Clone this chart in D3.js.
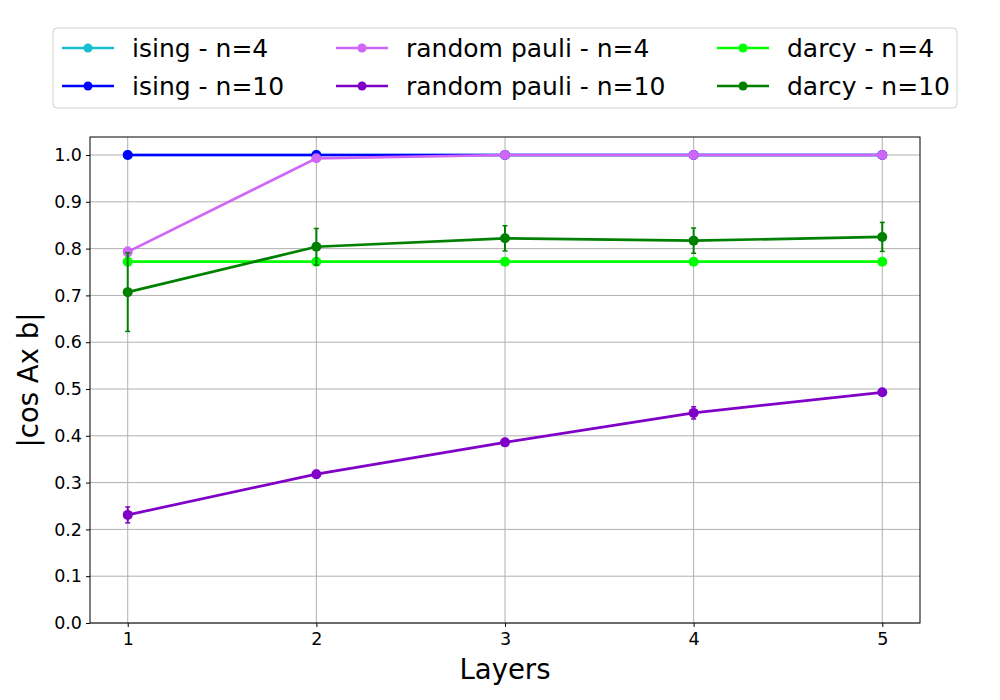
<!DOCTYPE html>
<html>
<head>
<meta charset="utf-8">
<script src="https://cdn.jsdelivr.net/npm/d3@7"></script>
<style>
  body { margin: 0; background: #fff; }
  svg { font-family: "DejaVu Sans", sans-serif; }
</style>
</head>
<body>
<svg width="1000" height="700"></svg>
<script>
// data
var layers = [1, 2, 3, 4, 5];
var xTicks = [1, 2, 3, 4, 5];
var yTicks = [0, 0.1, 0.2, 0.3, 0.4, 0.5, 0.6, 0.7, 0.8, 0.9, 1.0];

var seriesNames = ["ising - n=4", "ising - n=10", "random pauli - n=4",
                   "random pauli - n=10", "darcy - n=4", "darcy - n=10"];
var seriesColors = ["#17becf", "#0000ff", "#d066f5", "#8000c8", "#00ff00", "#008000"];

var isingN4 = [1.0, 1.0, 1.0, 1.0, 1.0];
var isingN10 = [1.0, 1.0, 1.0, 1.0, 1.0];
var pauliN4 = [0.793, 0.993, 1.0, 1.0, 1.0];
var pauliN4Err = [0.01, 0.003, 0, 0, 0];
var pauliN10 = [0.231, 0.318, 0.386, 0.449, 0.493];
var pauliN10Err = [0.017, 0.008, 0.007, 0.013, 0.005];
var darcyN4 = [0.772, 0.772, 0.772, 0.772, 0.772];
var darcyN10 = [0.707, 0.804, 0.822, 0.817, 0.825];
var darcyN10Err = [0.084, 0.039, 0.027, 0.027, 0.031];

var zeros = [0, 0, 0, 0, 0];
var seriesValues = [isingN4, isingN10, pauliN4, pauliN10, darcyN4, darcyN10];
var seriesErrors = [zeros, zeros, pauliN4Err, pauliN10Err, zeros, darcyN10Err];

var svg = d3.select("svg");
var plotL = 90, plotR = 920, plotT = 137, plotB = 623;

var x = d3.scaleLinear().domain([0.8, 5.2]).range([plotL, plotR]);
var y = d3.scaleLinear().domain([0, 1.0385]).range([plotB, plotT]);

// grid
svg.append("g")
    .selectAll("line")
    .data(xTicks)
    .enter().append("line")
    .attr("x1", function (d) { return x(d); })
    .attr("x2", function (d) { return x(d); })
    .attr("y1", plotT).attr("y2", plotB)
    .attr("stroke", "#b0b0b0").attr("stroke-width", 1);
svg.append("g")
    .selectAll("line")
    .data(yTicks)
    .enter().append("line")
    .attr("x1", plotL).attr("x2", plotR)
    .attr("y1", function (d) { return y(d); })
    .attr("y2", function (d) { return y(d); })
    .attr("stroke", "#b0b0b0").attr("stroke-width", 1);

// series
var line = d3.line()
    .x(function (d) { return x(d[0]); })
    .y(function (d) { return y(d[1]); });

seriesValues.forEach(function (vals, i) {
    var col = seriesColors[i];
    var pts = layers.map(function (l, j) { return [l, vals[j], seriesErrors[i][j]]; });
    var g = svg.append("g");

    g.append("path")
        .datum(pts)
        .attr("d", line)
        .attr("fill", "none")
        .attr("stroke", col)
        .attr("stroke-width", 2.7);

    // error bars
    var eb = g.selectAll("g.err")
        .data(pts.filter(function (p) { return p[2] > 0; }))
        .enter().append("g").attr("class", "err");
    eb.append("line")
        .attr("x1", function (p) { return x(p[0]); })
        .attr("x2", function (p) { return x(p[0]); })
        .attr("y1", function (p) { return y(p[1] - p[2]); })
        .attr("y2", function (p) { return y(p[1] + p[2]); })
        .attr("stroke", col).attr("stroke-width", 2);
    [-1, 1].forEach(function (s) {
        eb.append("line")
            .attr("x1", function (p) { return x(p[0]) - 2.5; })
            .attr("x2", function (p) { return x(p[0]) + 2.5; })
            .attr("y1", function (p) { return y(p[1] + s * p[2]); })
            .attr("y2", function (p) { return y(p[1] + s * p[2]); })
            .attr("stroke", col).attr("stroke-width", 1.5);
    });

    g.selectAll("circle")
        .data(pts)
        .enter().append("circle")
        .attr("cx", function (p) { return x(p[0]); })
        .attr("cy", function (p) { return y(p[1]); })
        .attr("r", 5)
        .attr("fill", col);
});

// axes
var xAxis = svg.append("g")
    .attr("transform", "translate(0," + plotB + ")")
    .call(d3.axisBottom(x).tickValues(xTicks).tickFormat(d3.format("d")).tickSizeOuter(0).tickSize(4));
var yAxis = svg.append("g")
    .attr("transform", "translate(" + plotL + ",0)")
    .call(d3.axisLeft(y).tickValues(yTicks).tickFormat(d3.format(".1f")).tickSizeOuter(0).tickSize(4));

[xAxis, yAxis].forEach(function (a) {
    a.select(".domain").remove();
    a.selectAll("text").attr("font-size", 17.5).attr("fill", "#000")
        .attr("font-family", "DejaVu Sans");
    a.selectAll("line").attr("stroke", "#000");
});
xAxis.selectAll("text").attr("dy", "0.85em");
yAxis.selectAll("text").attr("x", -8);

svg.append("rect")
    .attr("x", plotL).attr("y", plotT)
    .attr("width", plotR - plotL).attr("height", plotB - plotT)
    .attr("fill", "none").attr("stroke", "#000").attr("stroke-width", 1);

svg.append("text")
    .attr("x", (plotL + plotR) / 2).attr("y", 679)
    .attr("text-anchor", "middle")
    .attr("font-size", 27.5)
    .text("Layers");
svg.append("text")
    .attr("transform", "translate(38," + ((plotT + plotB) / 2) + ") rotate(-90)")
    .attr("text-anchor", "middle")
    .attr("font-size", 27.5)
    .text("|cos Ax b|");

// legend
var legend = svg.append("g");
legend.append("rect")
    .attr("x", 53).attr("y", 28).attr("width", 904).attr("height", 80)
    .attr("rx", 4).attr("fill", "#fff").attr("stroke", "#d0d0d0");

var colX = [62, 336, 717];
var rowY = [48, 86];
seriesNames.forEach(function (name, i) {
    var cx = colX[Math.floor(i / 2)], cy = rowY[i % 2];
    legend.append("line")
        .attr("x1", cx).attr("x2", cx + 52)
        .attr("y1", cy).attr("y2", cy)
        .attr("stroke", seriesColors[i]).attr("stroke-width", 2.7);
    legend.append("circle")
        .attr("cx", cx + 26).attr("cy", cy).attr("r", 4.5)
        .attr("fill", seriesColors[i]);
    legend.append("text")
        .attr("x", cx + 70).attr("y", cy)
        .attr("dy", "0.35em")
        .attr("font-size", 25)
        .text(name);
});
</script>
</body>
</html>
